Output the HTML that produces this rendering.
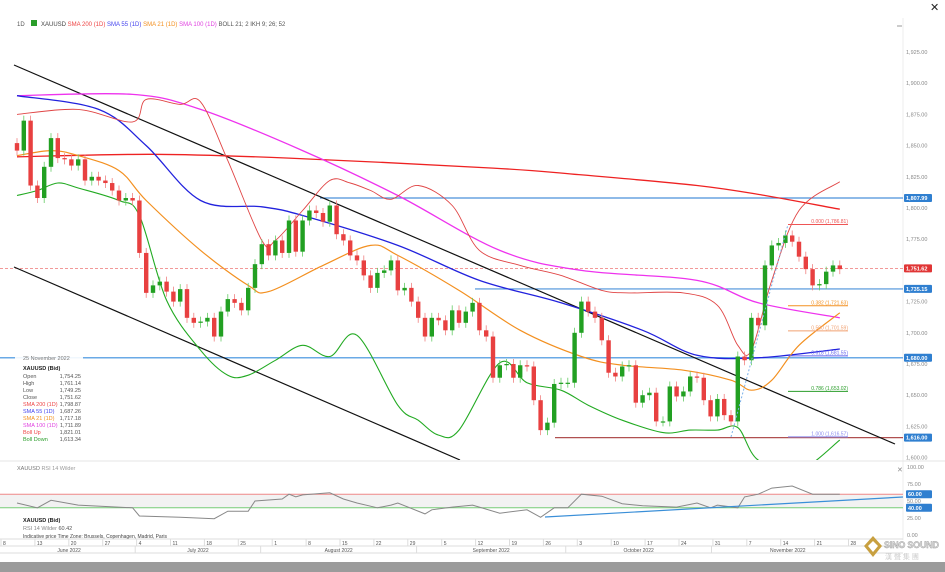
<!DOCTYPE html>
<html><head><meta charset="utf-8"><style>
html,body{margin:0;padding:0;background:#fff;width:945px;height:572px;overflow:hidden}
svg{display:block;font-family:"Liberation Sans",sans-serif}
</style></head><body>
<svg id="chart" width="945" height="572" viewBox="0 0 945 572" xmlns="http://www.w3.org/2000/svg">
<rect x="0" y="0" width="945" height="572" fill="#fff"/>
<g font-size="6">
<text x="17" y="26" fill="#555">1D</text>
<rect x="31" y="20" width="6" height="6" fill="#2a9d2a"/>
<text x="41" y="26" fill="#444">XAUUSD <tspan fill="#ee4444">SMA 200 (1D)</tspan> <tspan fill="#4444ee">SMA 55 (1D)</tspan> <tspan fill="#f39020">SMA 21 (1D)</tspan> <tspan fill="#e040e0">SMA 100 (1D)</tspan> <tspan fill="#555">BOLL 21; 2</tspan> <tspan fill="#555">IKH 9; 26; 52</tspan></text>
</g>
<text x="930" y="11" font-size="11" fill="#222">✕</text>
<line x1="897" y1="26" x2="902" y2="26" stroke="#999"/>
<line x1="903" y1="18" x2="903" y2="540" stroke="#eee"/>
<g id="main"></g>
<g id="rsi"></g>
<g id="xaxis"></g>
<g font-size="5.5">
<rect x="15" y="353" width="68" height="93" fill="#fff" opacity="0.9"/>
<text x="23" y="360" fill="#777">25 November 2022</text>
<text x="23" y="370" fill="#222" font-weight="bold">XAUUSD (Bid)</text>
<text x="23" y="378" fill="#555">Open</text><text x="81" y="378" fill="#555" text-anchor="end">1,754.25</text>
<text x="23" y="385" fill="#555">High</text><text x="81" y="385" fill="#555" text-anchor="end">1,761.14</text>
<text x="23" y="392" fill="#555">Low</text><text x="81" y="392" fill="#555" text-anchor="end">1,749.25</text>
<text x="23" y="399" fill="#555">Close</text><text x="81" y="399" fill="#555" text-anchor="end">1,751.62</text>
<text x="23" y="406" fill="#ee4444">SMA 200 (1D)</text><text x="81" y="406" fill="#555" text-anchor="end">1,798.87</text>
<text x="23" y="413" fill="#4444ee">SMA 55 (1D)</text><text x="81" y="413" fill="#555" text-anchor="end">1,687.26</text>
<text x="23" y="420" fill="#f39020">SMA 21 (1D)</text><text x="81" y="420" fill="#555" text-anchor="end">1,717.18</text>
<text x="23" y="427" fill="#e040e0">SMA 100 (1D)</text><text x="81" y="427" fill="#555" text-anchor="end">1,711.89</text>
<text x="23" y="434" fill="#ee4444">Boll Up</text><text x="81" y="434" fill="#555" text-anchor="end">1,821.01</text>
<text x="23" y="441" fill="#2a9d2a">Boll Down</text><text x="81" y="441" fill="#555" text-anchor="end">1,613.34</text>
</g>
<g font-size="5.5">
<text x="17" y="470" fill="#777">XAUUSD <tspan fill="#999">RSI 14 Wilder</tspan></text>
<text x="23" y="522" fill="#222" font-weight="bold">XAUUSD (Bid)</text>
<text x="23" y="530" fill="#888">RSI 14 Wilder <tspan fill="#555">60.42</tspan></text>
<text x="23" y="538" fill="#444" font-size="5">Indicative price    Time Zone: Brussels, Copenhagen, Madrid, Paris</text>
</g>
<rect x="0" y="562" width="945" height="10" fill="#9b9b9b"/>
<g>
<polygon points="864,546 873,536 882,546 873,557" fill="#c8a040"/>
<polygon points="868,546 873,541 878,546 873,552" fill="#fff"/>
<text x="884" y="548" font-size="9" font-weight="bold" fill="#ddd" stroke="#999" stroke-width="0.4" textLength="55">SINO SOUND</text>
<text x="885" y="559" font-size="7" fill="#ccc">漢 聲 集 團</text>
</g>
</svg>
<script>
const closes=[1846,1870,1818,1808,1833,1856,1840,1839,1834,1839,1822,1825,1822,1820,1814,1806,1808,1806,1764,1732,1738,1741,1733,1725,1735,1712,1708,1709,1712,1697,1717,1727,1724,1718,1736,1755,1771,1762,1774,
1764,1790,1765,1790,1798,1796,1789,1802,1779,1774,1762,1758,1746,1736,1748,1750,1758,1734,1736,1725,1712,1697,1712,1710,1702,1718,1708,1717,1724,1702,1697,1664,1674,1675,1664,1674,1673,1646,1622,1628,1659,1660,1660,
1700,1725,1717,1712,1694,1668,1665,1673,1674,1644,1650,1652,1629,1629,1657,1649,1653,1665,1664,1646,1633,1647,1634,1629,1681,1678,1712,1706,1754,1770,1772,1778,1773,1761,1751,1738,1739,1749,1754,1751];
const firstOpen=1852;
const sma200=[[0,1841],[20,1843],[40,1840],[70,1832],[82,1827],[100,1818],[110,1810],[121,1799]];
const sma100=[[0,1890],[17,1891],[27,1879],[42,1846],[56,1810],[71,1766],[83,1750],[100,1742],[109,1724],[121,1712]];
const sma55=[[0,1890],[12,1879],[19,1850],[27,1806],[36,1801],[42,1794],[56,1770],[68,1742],[80,1724],[92,1702],[100,1682],[109,1680],[121,1687]];
const sma21=[[0,1842],[5,1846],[9,1842],[15,1830],[19,1806],[27,1766],[34,1738],[37,1733],[45,1754],[52,1770],[56,1762],[65,1734],[74,1702],[83,1681],[89,1674],[98,1670],[105,1662],[108,1654],[111,1662],[115,1690],[121,1716]];
const bollUp=[[0,1875],[9,1879],[17,1869],[19,1887],[24,1883],[27,1885],[31,1838],[36,1774],[38,1774],[42,1798],[46,1822],[49,1820],[52,1814],[55,1807],[59,1818],[64,1802],[68,1766],[74,1754],[80,1746],[86,1734],[90,1732],[98,1732],[103,1722],[106,1690],[108,1686],[111,1742],[115,1798],[121,1821]];
const bollDown=[[0,1810],[3,1814],[6,1820],[9,1816],[15,1806],[18,1794],[22,1726],[27,1686],[31,1666],[34,1666],[38,1678],[42,1690],[46,1681],[50,1698],[56,1642],[59,1630],[62,1618],[65,1622],[71,1676],[75,1660],[80,1654],[84,1642],[89,1630],[95,1620],[99,1622],[103,1622],[106,1624],[109,1598],[115,1590],[121,1614]];
const rsiVals=[[0,47],[3,40],[5,51],[9,44],[17,40],[18,28],[24,26],[29,24],[31,35],[34,35],[35,50],[39,53],[40,60],[41,56],[42,59],[46,62],[48,53],[50,47],[53,40],[55,44],[56,47],[60,31],[61,37],[64,41],[67,44],[71,32],[75,37],[77,26],[79,40],[81,40],[83,60],[86,57],[89,46],[92,43],[97,41],[100,47],[102,40],[103,44],[106,40],[107,56],[109,60],[111,69],[114,72],[117,60],[121,60]];
const priceTicks=[1925,1900,1875,1850,1825,1800,1775,1725,1700,1675,1650,1625,1600];
const rsiTicks=[100,75,50,25,0];
const dayLabels=["8","13","20","27","4","11","18","25","1","8","15","22","29","5","12","19","26","3","10","17","24","31","7","14","21","28"];
const monthLabels=["June 2022","July 2022","August 2022","September 2022","October 2022","November 2022"];
const monthStartWeek=[0,3.9,7.6,12.2,16.6,20.9,25.4];
const fibLevels=[["0.000","1,786.81",1786.81,"#ee5555"],["0.382","1,721.63",1721.63,"#f39020"],["0.500","1,701.59",1701.59,"#f0a070"],["0.618","1,681.55",1681.55,"#6666ee"],["0.786","1,653.02",1653.02,"#2a9d2a"],["1.000","1,616.57",1616.57,"#8888ee"]];

const NS="http://www.w3.org/2000/svg";
const xs=i=>17+i*6.8;
const ys=p=>208+(1800-p)*1.248;
const ry=v=>535-v*0.68;
function mk(parent,tag,attrs){const e=document.createElementNS(NS,tag);for(const k in attrs)e.setAttribute(k,attrs[k]);parent.appendChild(e);return e;}
function smooth(pts){let d='M'+pts[0][0].toFixed(1)+','+pts[0][1].toFixed(1);for(let i=0;i<pts.length-1;i++){const p0=pts[i-1]||pts[i],p1=pts[i],p2=pts[i+1],p3=pts[i+2]||p2;const t=6;const c1=[p1[0]+(p2[0]-p0[0])/t,p1[1]+(p2[1]-p0[1])/t],c2=[p2[0]-(p3[0]-p1[0])/t,p2[1]-(p3[1]-p1[1])/t];d+='C'+c1.map(v=>v.toFixed(1)).join(',')+' '+c2.map(v=>v.toFixed(1)).join(',')+' '+p2[0].toFixed(1)+','+p2[1].toFixed(1);}return d;}
const main=document.getElementById('main');
const clip=mk(main,'clipPath',{id:'mc'});mk(clip,'rect',{x:0,y:30,width:903,height:430});
const plot=mk(main,'g',{'clip-path':'url(#mc)'});



priceTicks.forEach(p=>{const t=mk(main,'text',{x:906,y:ys(p)+2,'font-size':5.5,fill:'#888'});t.textContent=p.toLocaleString('en-US',{minimumFractionDigits:2});

});

function hline(p,x1,col,w,dash,name){const l=mk(plot,'line',{x1:x1,x2:903,y1:ys(p),y2:ys(p),stroke:col,'stroke-width':w});if(dash)l.setAttribute('stroke-dasharray',dash);

}
hline(1807.99,320,'#4a90d9',1.2,null,'level-1807');
hline(1751.62,0,'#ee7777',0.8,'3,2','last-price-line');
hline(1735.15,475,'#4a90d9',1.2,null,'level-1735');
hline(1680,0,'#6aaae6',1.6,null,'level-1680');
hline(1616,555,'#b05050',1.2,null,'level-1616');

const ch1=mk(plot,'line',{x1:14,y1:65,x2:895,y2:444,stroke:'#111','stroke-width':1.2});


const ch2=mk(plot,'line',{x1:14,y1:267,x2:460,y2:460,stroke:'#111','stroke-width':1.2});



function series(arr,col,w,name){const d=smooth(arr.map(p=>[xs(p[0]),ys(p[1])]));const e=mk(plot,'path',{d:d,fill:'none',stroke:col,'stroke-width':w,'stroke-linejoin':'round'});

}
series(sma200,'#ee2222',1.3,'sma200-line');
series(sma100,'#ee33ee',1.3,'sma100-line');
series(sma55,'#2222dd',1.3,'sma55-line');
series(sma21,'#f39020',1.2,'sma21-line');
series(bollUp,'#e04444',0.9,'boll-up-line');
series(bollDown,'#22aa22',1.1,'boll-down-line');

let prev=firstOpen;
closes.forEach((c,i)=>{const o=prev;prev=c;const up=c>=o;const col=up?'#22a022':'#e84040';
const g=mk(plot,'g',{});


const hi=Math.max(o,c)+4,lo=Math.min(o,c)-4;
mk(g,'line',{x1:xs(i),x2:xs(i),y1:ys(hi),y2:ys(lo),stroke:up?'#66cc66':'#f08080','stroke-width':0.8});
const top=ys(Math.max(o,c));const h=Math.max(1.2,Math.abs(ys(o)-ys(c)));
mk(g,'rect',{x:xs(i)-2.2,y:top,width:4.4,height:h,fill:col});});

const fx1=788,fx2=848;
const dl=mk(plot,'line',{x1:xs(105),y1:ys(1616.57),x2:fx1,y2:ys(1786.81),stroke:'#7ab0e8','stroke-width':1,'stroke-dasharray':'2,2'});


fibLevels.forEach(f=>{const l=mk(plot,'line',{x1:fx1,x2:fx2,y1:ys(f[2]),y2:ys(f[2]),stroke:f[3],'stroke-width':1});


const t=mk(plot,'text',{x:fx2,y:ys(f[2])-1.5,'font-size':5,fill:f[3],'text-anchor':'end'});t.textContent=f[0]+' ('+f[1]+')';

});

function box(p,label,col,name){const g=mk(main,'g',{});


mk(g,'rect',{x:904,y:ys(p)-4,width:28,height:8,fill:col,rx:1});const t=mk(g,'text',{x:906,y:ys(p)+2,'font-size':5.5,fill:'#fff','font-weight':'bold'});t.textContent=label;}
box(1807.99,'1,807.99','#2f7fd0','price-box-1807');
box(1751.62,'1,751.62','#e03535','price-box-last');
box(1735.15,'1,735.15','#2f7fd0','price-box-1735');
box(1680,'1,680.00','#2f7fd0','price-box-1680');
box(1616,'1,616.00','#2f7fd0','price-box-1616');

const rsi=document.getElementById('rsi');
mk(rsi,'line',{x1:0,x2:945,y1:461,y2:461,stroke:'#e4e4e4'});
mk(rsi,'rect',{x:0,y:ry(60),width:903,height:ry(40)-ry(60),fill:'#f2f2f2'});
mk(rsi,'line',{x1:0,x2:903,y1:ry(60),y2:ry(60),stroke:'#f08888','stroke-width':1});
mk(rsi,'line',{x1:0,x2:903,y1:ry(40),y2:ry(40),stroke:'#77cc77','stroke-width':1});
rsiTicks.forEach(v=>{const t=mk(rsi,'text',{x:907,y:ry(v)+2,'font-size':5.5,fill:'#888'});t.textContent=v.toFixed(2);

});
const rl=mk(rsi,'path',{d:rsiVals.map((p,k)=>(k?'L':'M')+xs(p[0]).toFixed(1)+','+ry(p[1]).toFixed(1)).join(''),fill:'none',stroke:'#888','stroke-width':1});


const rt=mk(rsi,'line',{x1:545,y1:517,x2:903,y2:497,stroke:'#3a8fd8','stroke-width':1.2});


function rbox(v,label,col){mk(rsi,'rect',{x:906,y:ry(v)-4,width:26,height:8,fill:col,rx:1});const t=mk(rsi,'text',{x:908,y:ry(v)+2,'font-size':5.5,fill:'#fff','font-weight':'bold'});t.textContent=label;}
rbox(60,'60.00','#2f7fd0');rbox(40,'40.00','#2f7fd0');
const cx=mk(rsi,'text',{x:897,y:472,'font-size':7,fill:'#888'});cx.textContent='✕';



const xa=document.getElementById('xaxis');
mk(xa,'line',{x1:0,x2:903,y1:539,y2:539,stroke:'#ddd'});
mk(xa,'line',{x1:0,x2:903,y1:546,y2:546,stroke:'#ddd'});
mk(xa,'line',{x1:0,x2:903,y1:553,y2:553,stroke:'#ddd'});
dayLabels.forEach((d,k)=>{const x=3+k*33.9;mk(xa,'line',{x1:x-2,x2:x-2,y1:539,y2:546,stroke:'#ddd'});const t=mk(xa,'text',{x:x,y:545,'font-size':5,fill:'#555'});t.textContent=d;

});
monthLabels.forEach((m,k)=>{const a=3+monthStartWeek[k]*33.9,b=3+monthStartWeek[k+1]*33.9;if(k>0)mk(xa,'line',{x1:a,x2:a,y1:546,y2:553,stroke:'#ddd'});const t=mk(xa,'text',{x:(a+Math.min(b,903))/2,y:552,'font-size':5,fill:'#555','text-anchor':'middle'});t.textContent=m;

});
</script>
</body></html>
